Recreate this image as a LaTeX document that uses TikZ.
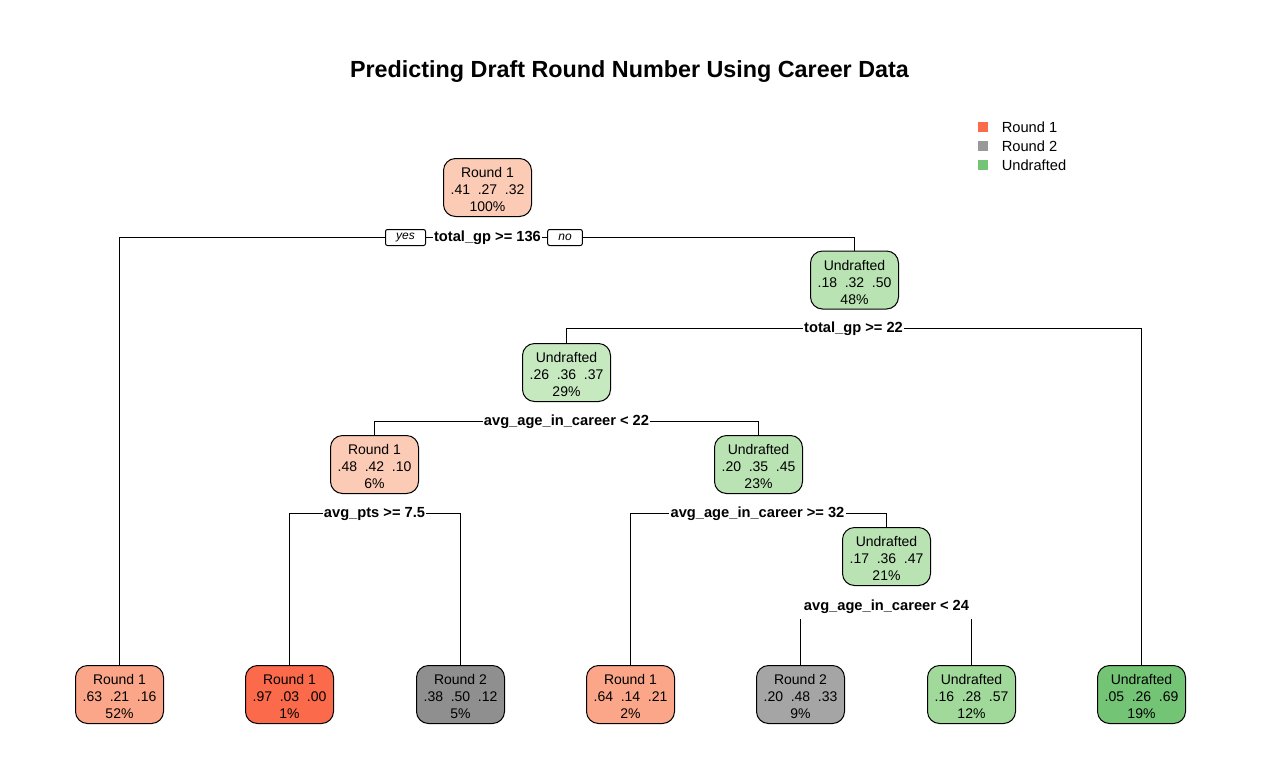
\documentclass[tikz,border=0pt]{standalone}
\usepackage{fontspec}
\setmainfont{Liberation Sans}
\definecolor{rA}{RGB}{252,203,182}
\definecolor{rB}{RGB}{252,166,137}
\definecolor{rC}{RGB}{251,106,74}
\definecolor{gyA}{RGB}{143,143,143}
\definecolor{gyB}{RGB}{165,165,165}
\definecolor{gyL}{RGB}{153,153,153}
\definecolor{gnA}{RGB}{199,233,192}
\definecolor{gnB}{RGB}{185,227,178}
\definecolor{gnC}{RGB}{161,217,155}
\definecolor{gnD}{RGB}{116,196,118}
\newcommand{\gp}{\hspace{0.55em}}
\newcommand{\nt}[3]{\raisebox{-3pt}[\height][\depth]{\begin{tabular}{@{}c@{}}#1\\#2\\#3\end{tabular}}}
\begin{document}
\begin{tikzpicture}[x=0.75pt,y=-0.75pt,
  tnode/.style={draw=black, line width=0.75pt, rounded corners=9pt, minimum width=66pt, minimum height=43.5pt, inner sep=0pt, font=\fontsize{10.5}{12.75}\selectfont},
  split/.style={fill=white, inner xsep=1pt, inner ysep=0pt, minimum height=13.5pt, font=\bfseries\fontsize{11}{13}\selectfont},
  yn/.style={draw=black, fill=white, line width=0.75pt, rounded corners=1.5pt, font=\itshape\fontsize{9}{10}\selectfont, minimum height=12pt, inner sep=0pt},
  edge/.style={line width=0.75pt},
  legsq/.style={minimum size=7.5pt, inner sep=0pt},
  legtx/.style={anchor=west, inner sep=0pt, font=\fontsize{11}{13}\selectfont}]
\useasboundingbox (-0.5,-0.5) rectangle (1260.5,778.5);
\node[font=\bfseries\fontsize{17.5}{20}\selectfont] (title) at (629,71) {Predicting Draft Round Number Using Career Data};
% legend
\node[legsq, fill=rC] (q1) at (982,126) {};
\node[legsq, fill=gyL] (q2) at (982,145) {};
\node[legsq, fill=gnD] (q3) at (982,164) {};
\node[legtx] (t1) at (1001,127) {Round 1};
\node[legtx] (t2) at (1001,146) {Round 2};
\node[legtx] (t3) at (1001,165) {Undrafted};
% nodes
\node[tnode, fill=rA] (n1) at (487,187) {\nt{Round 1}{.41\gp.27\gp.32}{100\%}};
\node[tnode, fill=gnB] (n2) at (854,279.5) {\nt{Undrafted}{.18\gp.32\gp.50}{48\%}};
\node[tnode, fill=gnA] (n3) at (566,372) {\nt{Undrafted}{.26\gp.36\gp.37}{29\%}};
\node[tnode, fill=rA] (n4) at (374,464) {\nt{Round 1}{.48\gp.42\gp.10}{6\%}};
\node[tnode, fill=gnB] (n5) at (758,464) {\nt{Undrafted}{.20\gp.35\gp.45}{23\%}};
\node[tnode, fill=gnB] (n6) at (886,556) {\nt{Undrafted}{.17\gp.36\gp.47}{21\%}};
\node[tnode, fill=rB] (l1) at (119,694) {\nt{Round 1}{.63\gp.21\gp.16}{52\%}};
\node[tnode, fill=rC] (l2) at (289,694) {\nt{Round 1}{.97\gp.03\gp.00}{1\%}};
\node[tnode, fill=gyA] (l3) at (460,694) {\nt{Round 2}{.38\gp.50\gp.12}{5\%}};
\node[tnode, fill=rB] (l4) at (630,694) {\nt{Round 1}{.64\gp.14\gp.21}{2\%}};
\node[tnode, fill=gyB] (l5) at (800,694) {\nt{Round 2}{.20\gp.48\gp.33}{9\%}};
\node[tnode, fill=gnC] (l6) at (971,694) {\nt{Undrafted}{.16\gp.28\gp.57}{12\%}};
\node[tnode, fill=gnD] (l7) at (1141,694) {\nt{Undrafted}{.05\gp.26\gp.69}{19\%}};
% split coordinates
\coordinate (c1) at (487,237);
\coordinate (c2) at (853,328);
\coordinate (c3) at (566,421);
\coordinate (c4) at (374,513);
\coordinate (c5) at (757,513);
\coordinate (c6) at (886,606);
% edges
\draw[edge] (l1.north) |- (c1) -| (n2.north);
\draw[edge] (n3.north) |- (c2) -| (l7.north);
\draw[edge] (n4.north) |- (c3) -| (n5.north);
\draw[edge] (l2.north) |- (c4) -| (l3.north);
\draw[edge] (l4.north) |- (c5) -| (n6.north);
\draw[edge] (l5.north) |- (c6) -| (l6.north);
% split labels
\node[split] (s1) at (c1) {total\_gp >= 136};
\node[split] (s2) at (c2) {total\_gp >= 22};
\node[split] (s3) at (c3) {avg\_age\_in\_career < 22};
\node[split] (s4) at (c4) {avg\_pts >= 7.5};
\node[split] (s5) at (c5) {avg\_age\_in\_career >= 32};
\node[split, minimum height=18pt, inner xsep=4pt] (s6) at (c6) {avg\_age\_in\_career < 24};
\node[yn, minimum width=30pt] (yes) at (405,237) {yes};
\node[yn, minimum width=26pt] (no) at (564.5,237) {no};
\end{tikzpicture}
\end{document}
